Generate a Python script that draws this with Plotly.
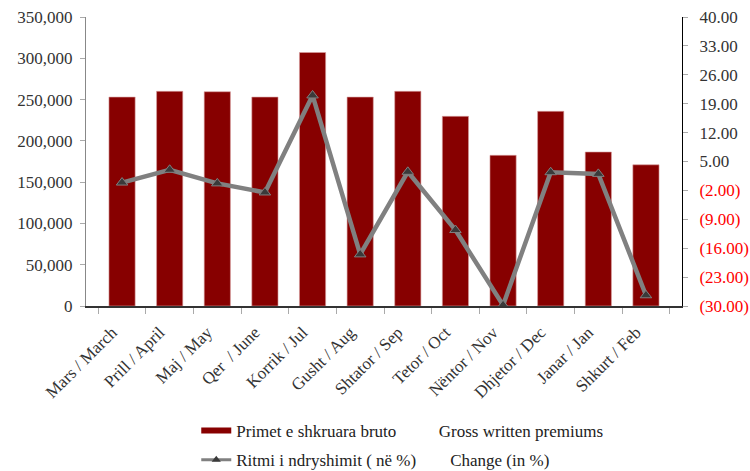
import plotly.graph_objects as go

# --- DATA ---
months = ["Mars / March", "Prill / April", "Maj / May", "Qer  / June", "Korrik / Jul",
          "Gusht / Aug", "Shtator / Sep", "Tetor / Oct", "Nëntor / Nov",
          "Dhjetor / Dec", "Janar / Jan", "Shkurt / Feb"]
premiums = [253000, 260000, 259500, 253000, 307000, 253000,
            260000, 229700, 182500, 235800, 186500, 171000]
change_pct = [-0.1, 3.0, -0.3, -2.5, 21.0, -17.5,
              2.5, -11.6, -29.8, 2.4, 2.0, -27.4]

left_ticks = [0, 50000, 100000, 150000, 200000, 250000, 300000, 350000]
right_ticks = [40, 33, 26, 19, 12, 5, -2, -9, -16, -23, -30]


def fmt_right(v):
    if v < 0:
        return "<span style='color:#ff0000'>(%.2f)</span>" % abs(v)
    return "%.2f" % v


NB = "\u00a0"
FONT = "Liberation Serif, Times New Roman, Times, serif"

fig = go.Figure()

fig.add_trace(go.Bar(
    x=months, y=premiums, showlegend=False,
    marker=dict(color="#870000", line=dict(color="#d9a0a0", width=0.6)),
    width=0.55
))

fig.add_trace(go.Scatter(
    x=months, y=change_pct, yaxis="y2", showlegend=False,
    mode="lines+markers",
    line=dict(color="#808080", width=4.5),
    marker=dict(symbol="triangle-up", size=10, color="#3a3a3a",
                line=dict(color="#808080", width=1))
))

# legend entries (wide swatches like the original)
fig.add_trace(go.Scatter(
    x=[None], y=[None], mode="lines",
    name="Primet e shkruara bruto" + NB * 10 + "Gross written premiums",
    line=dict(color="#870000", width=6), legendgroup="a"
))
fig.add_trace(go.Scatter(
    x=[None], y=[None], mode="lines+markers", yaxis="y2",
    name="Ritmi i ndryshimit ( në %)" + NB * 8 + "Change (in %)",
    line=dict(color="#808080", width=3),
    marker=dict(symbol="triangle-up", size=8, color="#3a3a3a"),
    legendgroup="b"
))

fig.update_layout(
    width=750, height=471,
    margin=dict(l=86, r=68, t=17, b=165),
    paper_bgcolor="white", plot_bgcolor="white",
    font=dict(family=FONT, size=17, color="#333333"),
    showlegend=True,
    legend=dict(
        orientation="v", x=0.185, xanchor="left",
        yref="container", y=0.123, yanchor="top",
        font=dict(family=FONT, size=17, color="#222222"),
        traceorder="grouped", tracegroupgap=4,
        bgcolor="rgba(0,0,0,0)"
    ),
    xaxis=dict(
        type="category", tickangle=-45, showgrid=False, automargin=False,
        showline=True, linecolor="#333333", linewidth=1.5,
        ticks="outside", tickson="boundaries", ticklen=6, tickcolor="#aaaaaa",
        ticklabelstandoff=8, ticklabelshift=-10,
        tickfont=dict(family=FONT, size=17, color="#333333")
    ),
    yaxis=dict(
        range=[0, 350000], tickvals=left_ticks, automargin=False,
        ticktext=["{:,}".format(v) for v in left_ticks],
        showgrid=False, zeroline=False,
        showline=True, linecolor="#888888", linewidth=1,
        ticks="outside", ticklen=5, tickcolor="#aaaaaa",
        ticklabelstandoff=4,
        tickfont=dict(family=FONT, size=17, color="#333333")
    ),
    yaxis2=dict(
        overlaying="y", side="right", range=[-30, 40], automargin=False,
        tickvals=right_ticks, ticktext=[fmt_right(v) for v in right_ticks],
        showgrid=False, zeroline=False,
        showline=True, linecolor="#000000", linewidth=1,
        ticks="outside", ticklen=5, tickcolor="#aaaaaa",
        ticklabelstandoff=8,
        tickfont=dict(family=FONT, size=17, color="#333333")
    )
)

fig.write_html("out.html", config={"displayModeBar": False},
               post_script="document.body.style.margin='0';")
